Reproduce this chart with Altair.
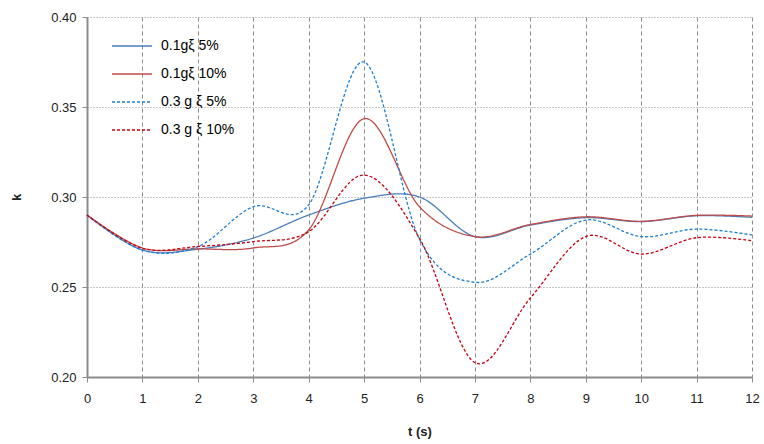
import altair as alt
import pandas as pd

t = [0, 1, 2, 3, 4, 5, 6, 7, 8, 9, 10, 11, 12]
s1 = [0.290, 0.2705, 0.271, 0.2772, 0.290, 0.2993, 0.3000, 0.2780, 0.2844, 0.2885, 0.2863, 0.2896, 0.2887]
s2 = [0.290, 0.2717, 0.2712, 0.2717, 0.2817, 0.3435, 0.2946, 0.2780, 0.2847, 0.2890, 0.2865, 0.2898, 0.2894]
s3 = [0.290, 0.2705, 0.2724, 0.2946, 0.2956, 0.3750, 0.2765, 0.2526, 0.2683, 0.2872, 0.2780, 0.2822, 0.2789]
s4 = [0.290, 0.2715, 0.2725, 0.2752, 0.2807, 0.3122, 0.2770, 0.2080, 0.2439, 0.2780, 0.2683, 0.2774, 0.2757]

names = ["0.1gξ 5%", "0.1gξ 10%", "0.3 g ξ 5%", "0.3 g ξ 10%"]
colors = ["#4A7EBB", "#BE4B48", "#1F7FD0", "#C8000F"]
dashes = [[1, 0], [1, 0], [3, 2], [3, 2]]

rows = []
for name, ys in zip(names, [s1, s2, s3, s4]):
    for x, y in zip(t, ys):
        rows.append({"t": x, "k": y, "series": name})
df = pd.DataFrame(rows)

font = "Liberation Sans"

chart = alt.Chart(df).mark_line(interpolate="cardinal", strokeWidth=1.3).encode(
    x=alt.X("t:Q", scale=alt.Scale(domain=[0, 12], nice=False),
            axis=alt.Axis(title="t (s)", values=list(range(13)), format="d",
                          grid=True, gridDash=[4, 3], gridColor="#8c8c8c",
                          tickColor="#8c8c8c", tickSize=5, labelPadding=10,
                          labelFlush=False, titlePadding=20)),
    y=alt.Y("k:Q", scale=alt.Scale(domain=[0.20, 0.40], nice=False, zero=False),
            axis=alt.Axis(title="k", values=[0.20, 0.25, 0.30, 0.35, 0.40], format=".2f",
                          grid=True, gridDash=[1, 2], gridColor="#8c8c8c",
                          tickColor="#8c8c8c", tickSize=5, labelPadding=6,
                          labelFlush=False, titlePadding=27)),
    color=alt.Color("series:N", scale=alt.Scale(domain=names, range=colors),
                    sort=names,
                    legend=alt.Legend(title=None, orient="none", legendX=24, legendY=8,
                                      symbolType="stroke", symbolSize=1600,
                                      symbolStrokeWidth=1.3, labelFontSize=14,
                                      labelFont=font, rowPadding=-12, labelOffset=8)),
    strokeDash=alt.StrokeDash("series:N", scale=alt.Scale(domain=names, range=dashes),
                              sort=names, legend=None),
).properties(
    width=665, height=360,
    autosize=alt.AutoSizeParams(type="none"),
    padding={"left": 87, "top": 17, "right": 12, "bottom": 67},
).configure_axis(
    labelFont=font, labelFontSize=13, labelColor="#222",
    titleFont=font, titleFontSize=13, titleFontWeight="bold", titleColor="#222",
    domainColor="#8c8c8c", domainWidth=2,
).configure_view(stroke=None)

chart.save("out.html", embed_options={"renderer": "svg", "actions": False})
